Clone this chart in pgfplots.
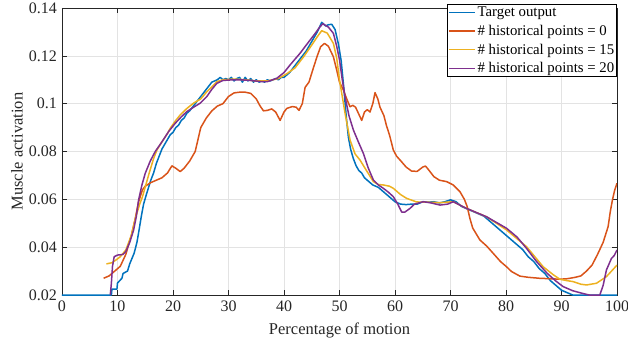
\documentclass[border=0pt]{standalone}
\usepackage{pgfplots}
\pgfplotsset{compat=1.18}
\usepackage{fontspec}
\setmainfont{Liberation Serif}
\definecolor{mblue}{rgb}{0,0.447,0.741}
\definecolor{morange}{rgb}{0.85,0.325,0.098}
\definecolor{myellow}{rgb}{0.929,0.694,0.125}
\definecolor{mpurple}{rgb}{0.494,0.184,0.556}
\definecolor{axgray}{rgb}{0.15,0.15,0.15}
\begin{document}
\begin{tikzpicture}
\begin{axis}[
  name=ax,
  scale only axis, width=555pt, height=287pt,
  xmin=0, xmax=100, ymin=0.02, ymax=0.14,
  xtick={0,10,...,100},
  ytick={0.02,0.04,0.06,0.08,0.1,0.12,0.14},
  yticklabel style={/pgf/number format/fixed,/pgf/number format/precision=2, inner ysep=0pt, inner xsep=5pt},
  xticklabel style={inner xsep=0pt, yshift=-2pt},
  /pgf/number format/assume math mode=true,
  tick label style={font=\fontsize{16}{18}\selectfont, color=axgray},
  label style={font=\fontsize{16.5}{19}\selectfont, color=axgray},
  xlabel={Percentage of motion},
  ylabel={Muscle activation},
  xlabel style={at={(axis description cs:0.5,-0.136)}, anchor=base},
  ylabel style={at={(axis description cs:-0.0811,0.5)}, anchor=center},
  tick align=inside, tick pos=both,
  major tick length=5pt,
  axis line style={axgray, line width=0.6pt},
  every tick/.style={axgray, line width=0.5pt},
  grid=major, grid style={gray!22, line width=0.5pt},
  legend style={at={(1,1.014)}, anchor=north east, draw=black, line width=0.6pt, fill=white,
    font=\fontsize{14.8}{17}\selectfont, inner sep=0.5pt, row sep=3pt, cells={anchor=west}},
  legend image code/.code={\draw[#1, line width=1.5pt] (0pt,0pt) -- (26pt,0pt);},
  every axis plot/.append style={line width=1.5pt, line join=round},
]
\addplot[mblue] coordinates {(0,0.02)(8.9,0.02)(9.0,0.0225)(9.9,0.0225)(10.0,0.025)(10.8,0.027)(11.0,0.029)(11.8,0.030)(12.2,0.033)(13,0.0375)(13.5,0.042)(13.8,0.046)(14.3,0.053)(14.7,0.058)(15.2,0.062)(15.6,0.065)(16,0.068)(16.5,0.071)(17,0.075)(17.5,0.078)(18,0.081)(18.5,0.083)(19,0.085)(19.5,0.087)(20,0.088)(20.5,0.090)(21,0.091)(21.5,0.093)(22,0.094)(22.5,0.096)(23,0.097)(24,0.100)(25,0.103)(26,0.106)(27,0.109)(27.5,0.1095)(28,0.110)(28.5,0.111)(29,0.110)(29.5,0.1105)(30,0.110)(30.5,0.111)(31,0.1095)(31.5,0.1105)(32,0.111)(32.5,0.109)(33,0.111)(33.5,0.1095)(34,0.1105)(34.5,0.109)(35,0.110)(35.5,0.109)(36,0.1095)(36.5,0.109)(37,0.110)(37.5,0.1095)(38,0.110)(38.5,0.1105)(39,0.110)(39.5,0.111)(40,0.111)(41,0.113)(42,0.116)(43,0.119)(44,0.122)(45,0.126)(46,0.130)(46.8,0.134)(47.5,0.1325)(48,0.133)(48.6,0.1332)(49.2,0.131)(49.8,0.125)(50.3,0.118)(50.8,0.106)(51.2,0.095)(51.6,0.086)(52,0.081)(52.5,0.077)(53,0.074)(53.5,0.072)(54,0.071)(54.5,0.069)(55,0.068)(55.5,0.067)(56,0.066)(57,0.065)(58,0.063)(59,0.061)(60,0.059)(61,0.058)(62,0.0578)(63,0.058)(64,0.058)(65,0.059)(66,0.0588)(67,0.059)(68,0.0585)(69,0.059)(70,0.0598)(71,0.059)(72,0.057)(73,0.056)(74,0.055)(75,0.054)(76,0.053)(77,0.051)(78,0.049)(79,0.047)(80,0.045)(81,0.043)(82,0.041)(83,0.039)(84,0.036)(85,0.034)(86,0.031)(87,0.029)(88,0.026)(89,0.024)(90,0.022)(91,0.021)(92,0.020)(100,0.020)};
\addlegendentry{Target output}
\addplot[morange] coordinates {(7.5,0.027)(8.5,0.028)(9.5,0.030)(10.5,0.032)(11.5,0.037)(12.5,0.045)(13.2,0.052)(13.8,0.059)(14.5,0.064)(15,0.0655)(16,0.067)(17,0.068)(18,0.069)(19,0.071)(19.8,0.074)(20.5,0.073)(21.3,0.0716)(22,0.073)(23,0.076)(24,0.080)(24.6,0.086)(25,0.090)(26,0.094)(27,0.097)(28,0.099)(29,0.100)(30,0.103)(31,0.1045)(32,0.1048)(33,0.1048)(34,0.1043)(35,0.102)(35.7,0.099)(36.3,0.097)(37,0.0972)(37.8,0.0978)(38.5,0.0965)(39.3,0.093)(40,0.0965)(40.5,0.098)(41.5,0.0988)(42.2,0.0985)(42.7,0.0972)(43.3,0.1)(43.8,0.1068)(44.5,0.109)(45.3,0.115)(46,0.120)(46.6,0.1238)(47.3,0.1252)(48,0.124)(48.9,0.1196)(49.5,0.114)(50,0.109)(50.7,0.1057)(51.3,0.102)(51.9,0.0987)(52.4,0.0993)(52.9,0.0985)(53.5,0.0955)(54,0.093)(54.5,0.0965)(55,0.0975)(55.5,0.0965)(56,0.100)(56.4,0.1046)(56.9,0.102)(57.3,0.0985)(58,0.095)(58.5,0.0905)(59,0.087)(59.7,0.0806)(60.3,0.078)(61,0.0762)(62,0.0735)(63,0.0718)(64,0.0717)(65,0.0735)(65.5,0.0739)(66,0.0725)(67,0.0695)(68,0.068)(69.3,0.0674)(70.5,0.066)(71.7,0.0632)(72.5,0.060)(73,0.057)(73.5,0.052)(74,0.048)(75.3,0.043)(76.5,0.0405)(77.7,0.0374)(79,0.034)(80.1,0.0318)(81,0.0298)(82.5,0.0279)(84,0.0274)(86,0.027)(88,0.0268)(89.7,0.0266)(91,0.0268)(92.5,0.0274)(93.5,0.028)(94.5,0.030)(95.5,0.0325)(96.5,0.037)(97.5,0.042)(98.4,0.0486)(98.8,0.055)(99.2,0.060)(99.6,0.064)(100,0.0667)};
\addlegendentry{\# historical points = 0}
\addplot[myellow] coordinates {(8,0.033)(9,0.0335)(9.7,0.0346)(10.5,0.036)(11.5,0.0388)(12.5,0.045)(13.3,0.0527)(14,0.058)(14.5,0.0611)(15.1,0.066)(15.7,0.0709)(16.5,0.077)(17.1,0.0806)(18,0.084)(19,0.0875)(19.5,0.0897)(20.5,0.093)(21.3,0.0953)(22.5,0.098)(23.7,0.1002)(25,0.102)(26.1,0.105)(27,0.107)(27.9,0.1092)(29,0.110)(31,0.1103)(33,0.110)(35,0.1095)(37,0.1095)(39,0.1105)(40.5,0.1125)(42,0.115)(43.5,0.1195)(45,0.1245)(46,0.128)(46.8,0.1305)(47.8,0.1295)(48.9,0.1252)(49.5,0.119)(50,0.1099)(50.5,0.103)(51,0.096)(51.9,0.0848)(52.8,0.079)(53.7,0.0764)(55,0.0715)(56.1,0.0674)(57,0.0662)(57.9,0.066)(59,0.0655)(59.7,0.0646)(61,0.062)(62.1,0.0604)(63.9,0.0589)(66,0.0588)(68.1,0.0586)(70.5,0.059)(72.9,0.0562)(76.5,0.0527)(80.1,0.0472)(83.7,0.0402)(86.7,0.0318)(88.5,0.0285)(89.7,0.0266)(91,0.026)(92.1,0.0256)(93.5,0.0245)(94.5,0.0242)(96.3,0.0249)(98.1,0.0277)(100,0.0325)};
\addlegendentry{\# historical points = 15}
\addplot[mpurple] coordinates {(8.7,0.02)(8.9,0.025)(9.1,0.032)(9.4,0.036)(10,0.0367)(10.5,0.0368)(11,0.037)(11.5,0.0382)(12.2,0.042)(12.9,0.0471)(13.4,0.053)(13.8,0.0597)(14.4,0.066)(15,0.0709)(15.9,0.076)(16.8,0.080)(18,0.084)(19.2,0.0883)(20.4,0.0918)(21.5,0.0945)(22.5,0.0967)(23.7,0.0985)(24.9,0.1002)(26.1,0.103)(27,0.106)(27.9,0.1085)(29,0.1097)(30.3,0.1099)(32,0.110)(34,0.1097)(36,0.1092)(37,0.1092)(38.7,0.1106)(40,0.113)(41.1,0.1162)(42.9,0.1211)(44.5,0.126)(45.5,0.129)(46.5,0.1322)(47,0.1334)(48,0.132)(48.9,0.1294)(49.5,0.124)(50,0.1183)(50.5,0.110)(51,0.1029)(51.7,0.095)(52.5,0.089)(53.4,0.084)(54.3,0.0792)(55.2,0.073)(56.1,0.0681)(57,0.066)(57.9,0.0646)(58.8,0.063)(59.7,0.0611)(60.5,0.058)(61.2,0.0547)(61.8,0.0547)(62.7,0.0562)(63.5,0.058)(65.1,0.059)(66.5,0.0585)(68.1,0.0576)(69.5,0.058)(70.5,0.059)(72.9,0.0562)(76.5,0.0527)(80.1,0.0479)(82,0.0442)(83.7,0.0395)(85.5,0.034)(87.4,0.0291)(89,0.0258)(90.3,0.0235)(92,0.0218)(93.9,0.0206)(95,0.020)(96.9,0.02)(97.5,0.024)(98.1,0.0305)(99,0.0353)(99.5,0.0365)(100,0.0388)};
\addlegendentry{\# historical points = 20}
\end{axis}
\pgfresetboundingbox
\path ([shift={(-62pt,-50pt)}]ax.south west) rectangle ([shift={(11pt,8pt)}]ax.north east);
\end{tikzpicture}
\end{document}
